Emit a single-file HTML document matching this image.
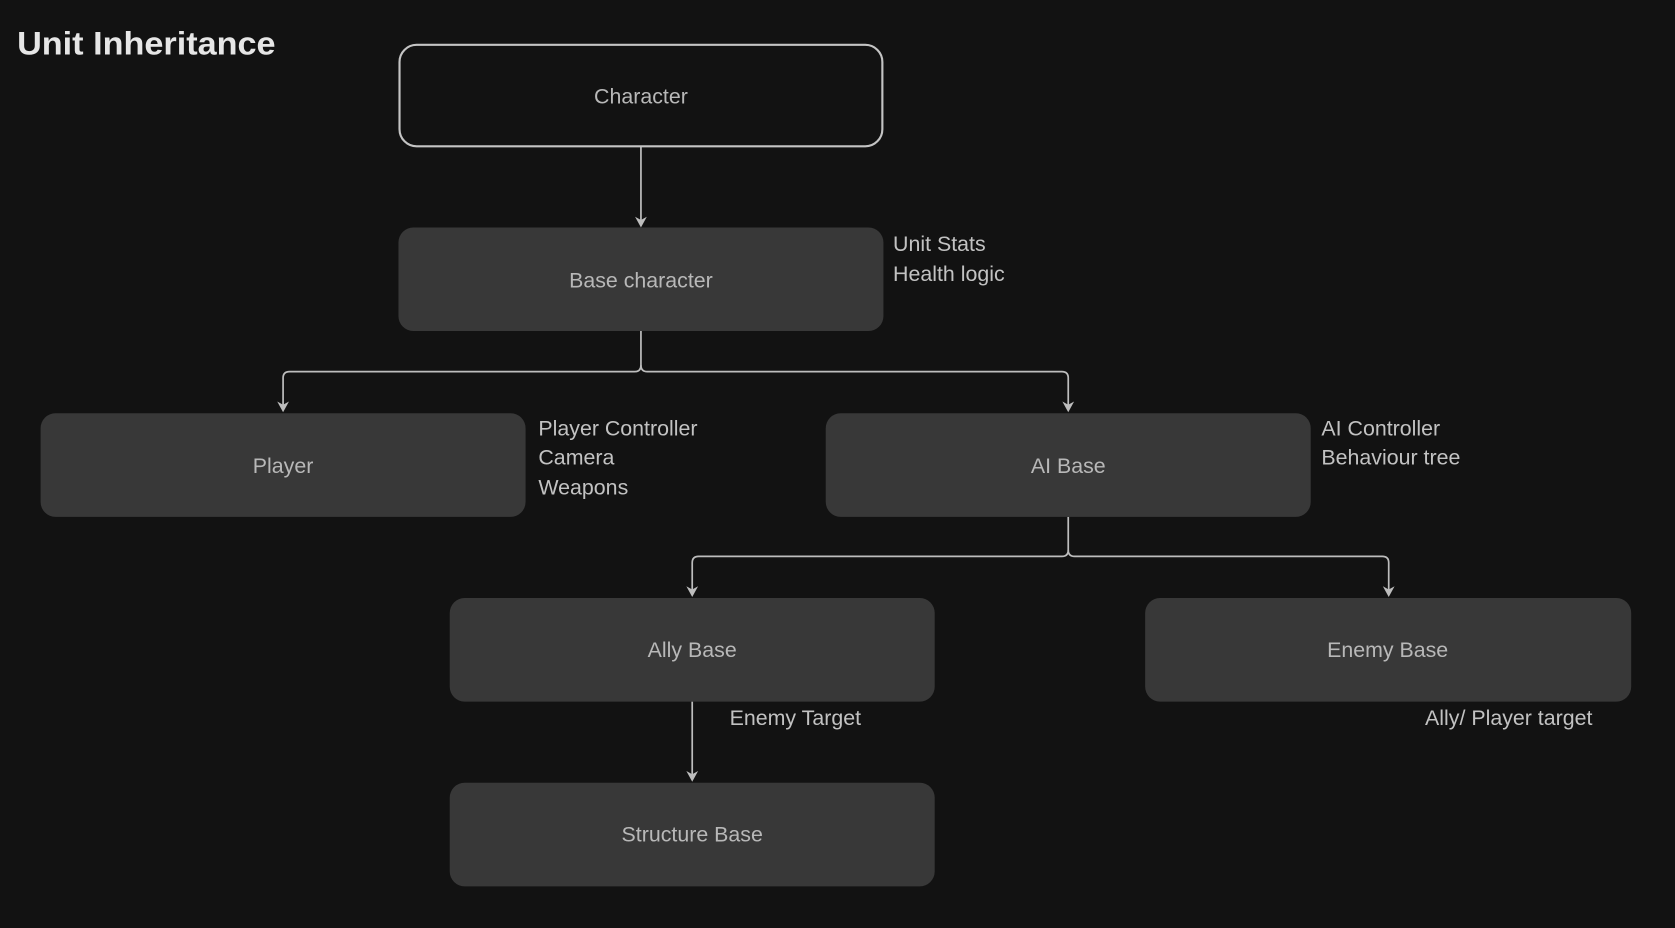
<!DOCTYPE html>
<html><head><meta charset="utf-8"><style>
html,body{margin:0;padding:0;background:#121212;}
svg{display:block;}
text{font-family:"Liberation Sans",sans-serif;}
</style></head><body>
<svg width="1675" height="928" viewBox="0 0 1568 869" preserveAspectRatio="none" xmlns="http://www.w3.org/2000/svg">
<rect width="1568" height="869" fill="#121212"/>
<text x="16" y="51" font-size="30" font-weight="bold" fill="#e6e6e6" textLength="242" lengthAdjust="spacingAndGlyphs">Unit Inheritance</text>
<g fill="none" stroke="#bdbdbd" stroke-width="1.6">
<path d="M600,137 V210"/>
<path d="M600,310 V342 Q600,348 594,348 H271 Q265,348 265,354 V383"/>
<path d="M600,342 Q600,348 606,348 H994 Q1000,348 1000,354 V383"/>
<path d="M1000,484 V515 Q1000,521 994,521 H654 Q648,521 648,527 V556"/>
<path d="M1000,515 Q1000,521 1006,521 H1294 Q1300,521 1300,527 V556"/>
<path d="M648,657 V729"/>
</g>
<g fill="#bdbdbd">
<path d="M594.5,203 L600,213 L605.5,203 L600,206 Z"/>
<path d="M259.5,376 L265,386 L270.5,376 L265,379 Z"/>
<path d="M994.5,376 L1000,386 L1005.5,376 L1000,379 Z"/>
<path d="M642.5,549 L648,559 L653.5,549 L648,552 Z"/>
<path d="M1294.5,549 L1300,559 L1305.5,549 L1300,552 Z"/>
<path d="M642.5,722 L648,732 L653.5,722 L648,725 Z"/>
</g>
<rect x="374" y="42" width="452" height="95" rx="16" fill="#121212" stroke="#c4c4c4" stroke-width="2"/>
<g fill="#383838">
<rect x="373" y="213" width="454" height="97" rx="14"/>
<rect x="38" y="387" width="454" height="97" rx="14"/>
<rect x="773" y="387" width="454" height="97" rx="14"/>
<rect x="421" y="560" width="454" height="97" rx="14"/>
<rect x="1072" y="560" width="455" height="97" rx="14"/>
<rect x="421" y="733" width="454" height="97" rx="14"/>
</g>
<g font-size="20" fill="#b8b8b8" text-anchor="middle">
<text x="600" y="97">Character</text>
<text x="600" y="269">Base character</text>
<text x="265" y="443">Player</text>
<text x="1000" y="443">AI Base</text>
<text x="648" y="615">Ally Base</text>
<text x="1299" y="615">Enemy Base</text>
<text x="648" y="788">Structure Base</text>
</g>
<g font-size="20" fill="#c2c2c2">
<text x="836" y="235">Unit Stats</text>
<text x="836" y="263">Health logic</text>
<text x="504" y="408">Player Controller</text>
<text x="504" y="435">Camera</text>
<text x="504" y="463">Weapons</text>
<text x="1237" y="408">AI Controller</text>
<text x="1237" y="435">Behaviour tree</text>
<text x="683" y="679">Enemy Target</text>
<text x="1334" y="679">Ally/ Player target</text>
</g>
</svg>
</body></html>
